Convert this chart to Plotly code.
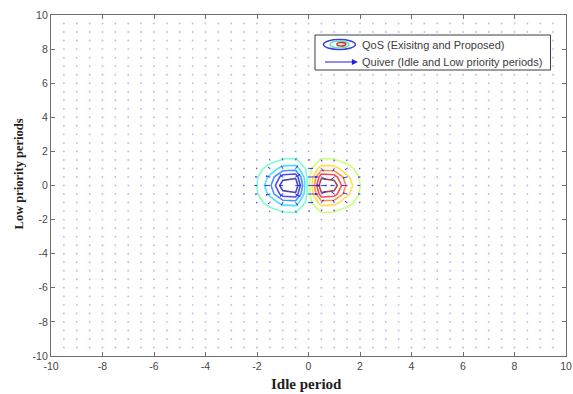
import numpy as np
import plotly.graph_objects as go
import plotly.figure_factory as ff

# ---------------- data ----------------
# sample grid of the field (idle period / low priority periods)
grid_x = np.arange(-9.5, 9.75, 0.5)
grid_y = np.arange(-9.5, 9.75, 0.5)

# axis ticks (MATLAB style hyphen minus)
tick_vals = [-10, -8, -6, -4, -2, 0, 2, 4, 6, 8, 10]
tick_text = ['-10', '-8', '-6', '-4', '-2', '0', '2', '4', '6', '8', '10']

# central region where the QoS surface is non-zero
zx = [-2.5, -2.0, -1.5, -1.0, -0.5, 0.0, 0.5, 1.0, 1.5, 2.0, 2.5]
zy = [-2.5, -2.0, -1.5, -1.0, -0.5, 0.0, 0.5, 1.0, 1.5, 2.0, 2.5]

row_25 = [-0.0000, -0.0001, -0.0003, -0.0007, -0.0007, 0.0, 0.0007, 0.0007, 0.0003, 0.0001, 0.0000]
row_20 = [-0.0001, -0.0007, -0.0029, -0.0067, -0.0071, 0.0, 0.0071, 0.0067, 0.0029, 0.0007, 0.0001]
row_15 = [-0.0005, -0.0039, -0.0167, -0.0388, -0.0410, 0.0, 0.0410, 0.0388, 0.0167, 0.0039, 0.0005]
row_10 = [-0.0018, -0.0135, -0.0582, -0.1353, -0.1433, 0.0, 0.1433, 0.1353, 0.0582, 0.0135, 0.0018]
row_05 = [-0.0037, -0.0285, -0.1231, -0.2865, -0.3033, 0.0, 0.3033, 0.2865, 0.1231, 0.0285, 0.0037]
row_00 = [-0.0048, -0.0366, -0.1581, -0.3679, -0.3894, 0.0, 0.3894, 0.3679, 0.1581, 0.0366, 0.0048]

qos = [row_25, row_20, row_15, row_10, row_05, row_00,
       row_05, row_10, row_15, row_20, row_25]

contour_levels = dict(start=-0.3186, end=0.3186, size=0.0708)
z_range = (-0.3894, 0.3894)

# ---------------- figure ----------------
matlab_jet = [
    [0.0, 'rgb(0,0,128)'],
    [0.125, 'rgb(0,0,255)'],
    [0.375, 'rgb(0,255,255)'],
    [0.625, 'rgb(255,255,0)'],
    [0.875, 'rgb(255,0,0)'],
    [1.0, 'rgb(128,0,0)'],
]

fig = go.Figure()

# zero-length quiver arrows shown as faint dots
gx, gy = np.meshgrid(grid_x, grid_y)
fig.add_trace(go.Scatter(
    x=gx.ravel(), y=gy.ravel(), mode='markers',
    marker=dict(size=1.9, color='rgb(185,185,250)'),
    showlegend=False, hoverinfo='skip'))

fig.add_trace(go.Contour(
    x=zx, y=zy, z=qos,
    contours=dict(coloring='lines', **contour_levels),
    colorscale=matlab_jet, zmin=z_range[0], zmax=z_range[1],
    line=dict(width=1.6, smoothing=0),
    showscale=False, showlegend=False, hoverinfo='skip', opacity=0.7))

# quiver from the gradient of the surface
Z = np.array(qos)
dzdy, dzdx = np.gradient(Z, 0.5, 0.5)
qx, qy = np.meshgrid(zx, zy)
qfig = ff.create_quiver(qx.ravel(), qy.ravel(), dzdx.ravel(), dzdy.ravel(),
                        scale=0.58, arrow_scale=0.3,
                        line=dict(width=1, color='rgba(40,40,235,0.85)'))
qtr = qfig.data[0]
qtr.showlegend = False
qtr.hoverinfo = 'skip'
fig.add_trace(qtr)

axis_common = dict(
    showline=True, mirror='ticks', linecolor='rgb(110,110,110)', linewidth=1.3,
    ticks='inside', ticklen=4, tickcolor='rgb(110,110,110)', tickwidth=1,
    showgrid=False, zeroline=False, automargin=False,
    tickfont=dict(family='Liberation Sans, Arial', size=10.5, color='rgb(70,70,70)'),
    range=[-10, 10], tickmode='array', tickvals=tick_vals, ticktext=tick_text,
)

fig.update_layout(
    width=573, height=394,
    margin=dict(l=50.5, r=6.5, t=15, b=38),
    paper_bgcolor='white', plot_bgcolor='white',
    showlegend=False,
    xaxis=dict(**axis_common),
    yaxis=dict(**axis_common),
)

# axis titles
fig.add_annotation(text='<b>Idle period</b>', xref='paper', yref='paper',
                   x=0.4965, y=-0.082, xanchor='center', yanchor='middle',
                   showarrow=False,
                   font=dict(family='Liberation Serif, DejaVu Serif', size=15, color='rgb(30,30,30)'))
fig.add_annotation(text='<b>Low priority periods</b>', xref='paper', yref='paper',
                   x=-0.063, y=0.534, xanchor='center', yanchor='middle',
                   textangle=-90, showarrow=False,
                   font=dict(family='Liberation Serif, DejaVu Serif', size=12.5, color='rgb(30,30,30)'))

# legend box (data coordinates: 25.8 px / unit in x, 17.05 px / unit in y)
def px2x(p):
    return (p - 308.5) / 25.8

def py2y(p):
    return (185.5 - p) / 17.05

fig.add_shape(type='rect', xref='x', yref='y',
              x0=px2x(315), x1=px2x(551), y0=py2y(70), y1=py2y(35),
              line=dict(color='rgb(60,60,60)', width=1), fillcolor='white', layer='above')
fig.add_shape(type='circle', xref='x', yref='y',
              x0=px2x(323.5), x1=px2x(355.5), y0=py2y(49.5), y1=py2y(39.5),
              line=dict(color='rgb(60,60,225)', width=1.5), layer='above')
fig.add_shape(type='circle', xref='x', yref='y',
              x0=px2x(330), x1=px2x(349), y0=py2y(48), y1=py2y(41),
              line=dict(color='rgb(90,230,180)', width=1.5), layer='above')
fig.add_shape(type='circle', xref='x', yref='y',
              x0=px2x(337), x1=px2x(346), y0=py2y(46), y1=py2y(42.5),
              line=dict(color='rgb(220,40,40)', width=1.5), layer='above')
fig.add_annotation(x=px2x(358), y=py2y(62), ax=px2x(323.5), ay=py2y(62),
                   xref='x', yref='y', axref='x', ayref='y',
                   showarrow=True, arrowhead=2, arrowsize=1, arrowwidth=1.2,
                   arrowcolor='rgb(30,30,230)', text='')
leg_font = dict(family='Liberation Sans, Arial', size=11, color='rgb(60,60,60)')
fig.add_annotation(text='QoS (Exisitng and Proposed)', x=px2x(360.5), y=py2y(45),
                   xref='x', yref='y', xanchor='left', yanchor='middle',
                   showarrow=False, font=leg_font)
fig.add_annotation(text='Quiver (Idle and Low priority periods)', x=px2x(360.5), y=py2y(62),
                   xref='x', yref='y', xanchor='left', yanchor='middle',
                   showarrow=False, font=leg_font)

fig.write_html('out.html',
               config={'displayModeBar': False},
               post_script="document.body.style.margin='0';document.body.style.padding='0';"
                           "document.body.style.overflow='hidden';")
